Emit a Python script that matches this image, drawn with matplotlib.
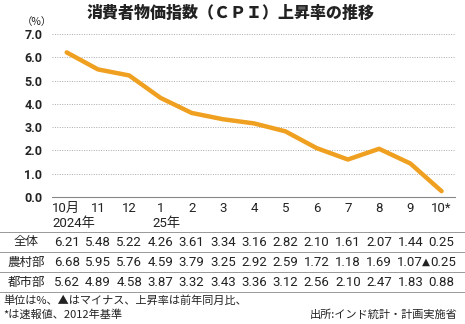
import numpy as np
import matplotlib.pyplot as plt
import matplotlib.transforms as mtransforms
from matplotlib.lines import Line2D

# data
months = ["10月", "11", "12", "1", "2", "3", "4", "5", "6", "7", "8", "9", "10*"]
row_names = ["全体", "農村部", "都市部"]
overall = [6.21, 5.48, 5.22, 4.26, 3.61, 3.34, 3.16, 2.82, 2.10, 1.61, 2.07, 1.44, 0.25]
rural = [6.68, 5.95, 5.76, 4.59, 3.79, 3.25, 2.92, 2.59, 1.72, 1.18, 1.69, 1.07, -0.25]
urban = [5.62, 4.89, 4.58, 3.87, 3.32, 3.43, 3.36, 3.12, 2.56, 2.10, 2.47, 1.83, 0.88]
yticks = [0, 1, 2, 3, 4, 5, 6, 7]

JP = ["Noto Sans CJK JP", "DejaVu Sans"]
NUM = ["Roboto", "Noto Sans CJK JP", "DejaVu Sans"]
plt.rcParams['font.family'] = NUM
ink = "#222222"

W, H = 465, 324
fig = plt.figure(figsize=(W / 100, H / 100), dpi=100)
ax = fig.add_axes([52 / W, 1 - 197 / H, (455 - 52) / W, (197 - 34) / H])

x = np.arange(len(months))
ax.plot(x, overall, color="#F0A020", lw=3.2, solid_capstyle="round")
ax.set_xlim(-0.47, 12.43)
ax.set_ylim(0, 7)
ax.set_yticks(yticks)
ax.set_yticklabels(["%.1f" % v for v in yticks], fontsize=9, fontweight="bold", color=ink)
ax.yaxis.grid(True, ls=(0, (1, 1.5)), color="#aaaaaa", lw=0.7)
ax.set_axisbelow(True)
for s in ["left", "right", "top"]:
    ax.spines[s].set_visible(False)
ax.spines["bottom"].set_color("#888888")
ax.spines["bottom"].set_linewidth(0.8)
ax.tick_params(length=0, pad=7)
ax.set_xticks([])

tr = mtransforms.blended_transform_factory(ax.transData, fig.transFigure)
tr_tri = mtransforms.offset_copy(tr, fig=fig, x=-26, y=0, units="dots")

def fy(py):
    return 1 - py / H

# month labels
for i, m in enumerate(months):
    if i == 0:
        ax.text(-0.47, fy(208), m, transform=tr, ha="left", va="center", fontsize=9.5, color=ink)
    else:
        ax.text(i, fy(208), m, transform=tr, ha="center", va="center", fontsize=9.5, color=ink)
ax.text(-0.47, fy(223), "2024年", transform=tr, ha="left", va="center", fontsize=9.5, color=ink)
ax.text(2.73, fy(223), "25年", transform=tr, ha="left", va="center", fontsize=9.5, color=ink)

# table
rows = [overall, rural, urban]
row_y = [242, 262, 282]
for name, vals, py in zip(row_names, rows, row_y):
    fig.text(26 / W, fy(py), name, ha="center", va="center", fontsize=9, family=JP, color=ink)
    for i, v in enumerate(vals):
        if v >= 0:
            ax.text(i, fy(py), "%.2f" % v, transform=tr, ha="center", va="center",
                    fontsize=9.5, color=ink)
        else:
            ax.text(i + 0.47, fy(py), "%.2f" % -v, transform=tr, ha="right", va="center",
                    fontsize=9.5, color=ink)
            ax.text(i + 0.47, fy(py) + 0.002, "▲", transform=tr_tri, ha="right", va="center",
                    fontsize=7.5, family=["DejaVu Sans"], color=ink)

for py in [232, 252, 272, 292]:
    fig.add_artist(Line2D([0, 1], [fy(py), fy(py)], transform=fig.transFigure, color="#999999", lw=0.7))

# title and notes
fig.text(0.495, fy(13), "消費者物価指数（ＣＰＩ）上昇率の推移", ha="center", va="center",
         fontsize=11.5, fontweight="black", family=JP, color=ink)
fig.text(37 / W, fy(22), "（%）", ha="center", va="center", fontsize=7.5, family=JP, color=ink)
fig.text(3 / W, fy(301), "単位は%、▲はマイナス、上昇率は前年同月比、", ha="left", va="center",
         fontsize=8, family=JP, color=ink)
fig.text(3 / W, fy(315), "*は速報値、2012年基準", ha="left", va="center", fontsize=8, family=JP, color=ink)
fig.text(457 / W, fy(315), "出所:インド統計・計画実施省", ha="right", va="center", fontsize=8, family=JP, color=ink)

fig.savefig("out.png", dpi=100)
